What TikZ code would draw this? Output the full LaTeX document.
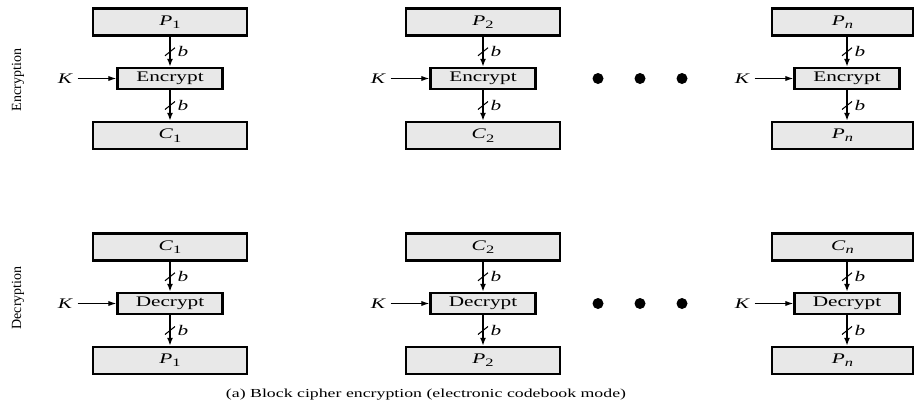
\documentclass[tikz,border=0pt]{standalone}
\usepackage{fontspec}
\setmainfont{Liberation Serif}[FakeStretch=1.45]
\newfontfamily\sidefont{Liberation Serif}
\usetikzlibrary{arrows.meta, positioning}

% block label with a lowered index, e.g. \blk{P}{1}
\newcommand{\blk}[2]{\textit{#1}\raisebox{-0.5ex}{\fontsize{8.5}{9}\selectfont #2}}

\tikzset{
	block/.style={draw, line width=1.8pt, fill=black!9, inner sep=0pt,
		minimum width=#1*0.75pt, minimum height=20.25pt,
		font=\fontsize{11}{13}\selectfont},
	cipher/.style={draw, line width=1.8pt, fill=black!9, inner sep=0pt,
		minimum width=78.75pt, minimum height=15.75pt,
		font=\fontsize{11}{13}\selectfont},
	bus/.style={line width=1.5pt, -{Latex[length=6pt,width=4.5pt]}},
	keyin/.style={line width=0.9pt, -{Latex[length=6pt,width=4pt]}},
	keylbl/.style={font=\fontsize{11}{13}\selectfont},
	tick/.style={line width=0.8pt},
	bitlbl/.style={anchor=west, inner sep=0pt, xshift=5.5pt, font=\fontsize{11}{13}\selectfont},
	dot/.style={circle, fill=black, inner sep=0pt, minimum size=8.25pt},
	side/.style={font=\sidefont\fontsize{10.5}{12}\selectfont, rotate=90},
}

\begin{document}
\begin{tikzpicture}[x=0.75pt, y=-0.75pt]
	\useasboundingbox (0,0) rectangle (915,415);
	
	% Encryption row
	\foreach \bx/\cx/\w/\tin/\tout/\i in {170/170/154/{\blk{P}{1}}/{\blk{C}{1}}/1,
		483/483/154/{\blk{P}{2}}/{\blk{C}{2}}/2,
		842.5/847/141/{\blk{P}{\textit{n}}}/{\blk{P}{\textit{n}}}/3} {
		\node[block=\w] (ep\i) at (\bx,22) {\tin};
		\node[cipher] (ee\i) at (\cx,78.5) {Encrypt};
		\node[block=\w] (ec\i) at (\bx,135.5) {\tout};
		\node[keylbl, left=29pt of ee\i] (ek\i) {\textit{K}};
		\draw[keyin] (ek\i) -- (ee\i);
		\draw[bus] (ee\i.north |- ep\i.south) -- coordinate (et\i) (ee\i.north);
		\draw[bus] (ee\i.south) -- coordinate (eb\i) (ee\i.south |- ec\i.north);
		\foreach \m in {et\i, eb\i} {
			\draw[tick] ([shift={(-5,4)}]\m) -- ([shift={(5,-4)}]\m);
			\node[bitlbl] at (\m) {\textit{b}};
		}
	}
	
	% Decryption row
	\foreach \bx/\cx/\w/\tin/\tout/\i in {170/170/154/{\blk{C}{1}}/{\blk{P}{1}}/1,
		483/483/154/{\blk{C}{2}}/{\blk{P}{2}}/2,
		842.5/847/141/{\blk{C}{\textit{n}}}/{\blk{P}{\textit{n}}}/3} {
		\node[block=\w] (dc\i) at (\bx,247) {\tin};
		\node[cipher] (dd\i) at (\cx,303.5) {Decrypt};
		\node[block=\w] (dp\i) at (\bx,360.5) {\tout};
		\node[keylbl, left=29pt of dd\i] (dk\i) {\textit{K}};
		\draw[keyin] (dk\i) -- (dd\i);
		\draw[bus] (dd\i.north |- dc\i.south) -- coordinate (dt\i) (dd\i.north);
		\draw[bus] (dd\i.south) -- coordinate (db\i) (dd\i.south |- dp\i.north);
		\foreach \m in {dt\i, db\i} {
			\draw[tick] ([shift={(-5,4)}]\m) -- ([shift={(5,-4)}]\m);
			\node[bitlbl] at (\m) {\textit{b}};
		}
	}
	
	% Ellipsis dots between the columns
	\foreach \dx in {598,640,682} {
		\node[dot] (edot\dx) at (\dx,78.5) {};
		\node[dot] (ddot\dx) at (\dx,303.5) {};
	}
	
	% Row labels and caption
	\node[side] (enclbl) at (18,80) {Encryption};
	\node[side] (declbl) at (18,298) {Decryption};
	\node[font=\fontsize{9.2}{11}\selectfont] (caption) at (426,395)
		{(a) Block cipher encryption (electronic codebook mode)};
\end{tikzpicture}
\end{document}
